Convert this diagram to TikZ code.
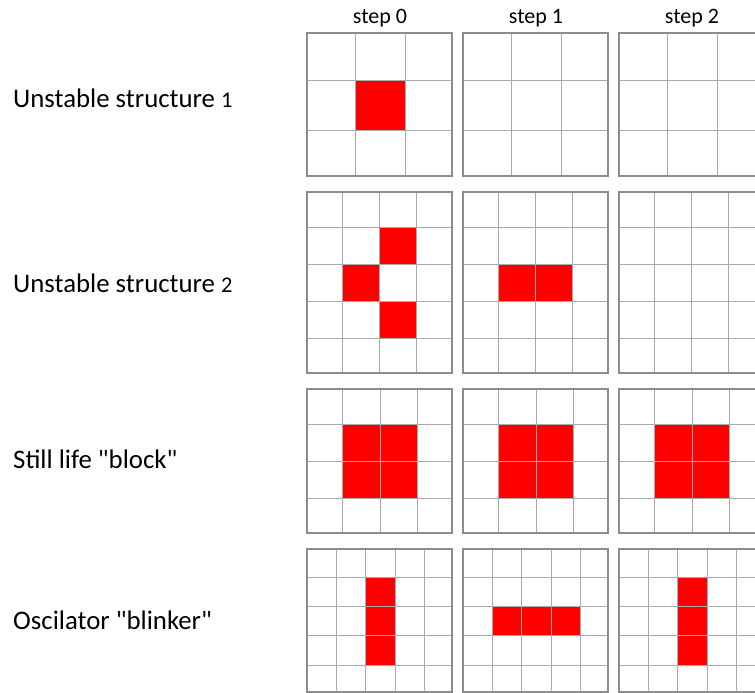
\documentclass[tikz,border=0pt]{standalone}
\usepackage{fontspec}
\setmainfont{Carlito}
\definecolor{cellred}{RGB}{255,0,0}
\definecolor{gridin}{RGB}{170,170,170}
\definecolor{gridout}{RGB}{140,140,140}
\newcommand\lifegrid[5]{%
  \foreach \gx in {#2} \draw[innerline] ({#1+\gx},#4) -- ({#1+\gx},#5);
  \foreach \gy in {#3} \draw[innerline] (#1,\gy) -- ({#1+145},\gy);
  \draw[outerline] (#1,#4) rectangle ({#1+145},#5);
}
\newcommand\smalldigit[1]{{\fontsize{22.5}{26}\selectfont #1}}
\begin{document}
\begin{tikzpicture}[x=1pt,y=-1pt,
  innerline/.style={draw=gridin,line width=1pt},
  outerline/.style={draw=gridout,line width=2pt},
  alive/.style={fill=cellred},
  rowlabel/.style={anchor=base west,inner sep=0pt,font=\fontsize{26.8}{30}\selectfont},
  steplabel/.style={anchor=base,inner sep=0pt,font=\fontsize{22}{26}\selectfont}]
\useasboundingbox (0,0) rectangle (755,693);
\clip (0,0) rectangle (755,693);

% step labels
\node[steplabel] (s0) at (380,24) {step 0};
\node[steplabel] (s1) at (536,24) {step 1};
\node[steplabel] (s2) at (692,24) {step 2};

% row labels
\node[rowlabel] (r1) at (13,107) {Unstable structure \smalldigit{1}};
\node[rowlabel] (r2) at (13,292) {Unstable structure \smalldigit{2}};
\node[rowlabel] (r3) at (13,468.5) {Still life \textquotedbl block\textquotedbl};
\node[rowlabel] (r4) at (13,629.5) {Oscilator \textquotedbl blinker\textquotedbl};

% ---- row 1: 3x3 ----
\fill[alive] (355,80.7) rectangle (405,130);
\foreach \ox in {307.3,463.3,619.3}
  \lifegrid{\ox}{47.7,97.7}{80.7,130}{33}{175.7};

% ---- row 2: 4 cols x 5 rows ----
\fill[alive] (379.3,227.7) rectangle (416.7,264.3);
\fill[alive] (342.7,264.3) rectangle (379.3,301.7);
\fill[alive] (379.3,301.7) rectangle (416.7,338.3);
\fill[alive] (498.7,264.3) rectangle (572.7,301.7);
\foreach \ox in {307.3,463.3,619.3}
  \lifegrid{\ox}{35.4,72,109.4}{227.7,264.3,301.7,338.3}{192.3}{372.5};

% ---- row 3: 4x4 block ----
\foreach \ox in {0,156,312}
  \fill[alive] ({342.7+\ox},424.3) rectangle ({417.3+\ox},498);
\foreach \ox in {307.3,463.3,619.3}
  \lifegrid{\ox}{35.4,73,110}{424.3,461,498}{389}{532.7};

% ---- row 4: 5x5 blinker ----
\fill[alive] (365.3,577.7) rectangle (395.3,665);
\fill[alive] (492,606.7) rectangle (580.7,635.7);
\fill[alive] (677.3,577.7) rectangle (707.3,665);
\foreach \ox in {307.3,463.3,619.3}
  \lifegrid{\ox}{28.7,58,88,117.4}{577.7,606.7,635.7,665}{549.3}{691.7};
\end{tikzpicture}
\end{document}
